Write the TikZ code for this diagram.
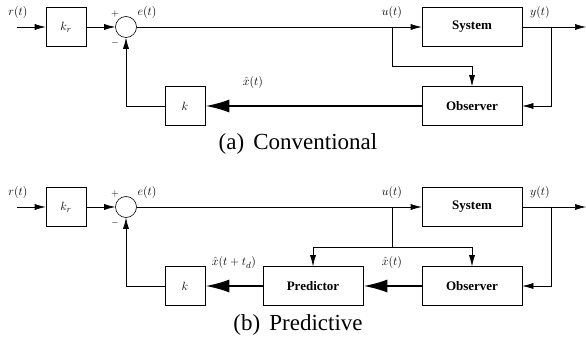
\documentclass[tikz,border=0pt]{standalone}
\usepackage[no-math]{fontspec}
\setmainfont{Liberation Serif}
\usetikzlibrary{positioning,arrows.meta}

\begin{document}
\begin{tikzpicture}
        [
        x=1pt, y=-1pt,
        every node/.style={font=\fontsize{13}{15}\selectfont},
        block/.style={draw, line width=0.6pt, minimum width=100pt, minimum height=39pt,
          font=\fontsize{13}{15}\selectfont\bfseries},
        gain/.style={draw, line width=0.6pt, minimum width=40pt, minimum height=39pt},
        sumnode/.style={circle, draw, line width=0.6pt, minimum size=21pt, inner sep=0pt},
        sign/.style={font=\fontsize{10}{12}\selectfont, inner sep=0pt},
        caption/.style={font=\fontsize{23}{26}\selectfont},
        wire/.style={line width=0.6pt},
        sig/.style={wire, -{Latex[length=11pt,width=6pt]}},
        est/.style={line width=2.2pt, -{Latex[length=24pt,width=13pt]}}
        ]
        \useasboundingbox (0,0) rectangle (586,344);

        % (a) Conventional: blocks
        \node[gain] (kr1) at (66,27) {$k_r$};
        \node[sumnode] (sum1) at (126,27) {};
        \node[block] (sys1) at (472,27) {System};
        \node[block] (obs1) at (472,106) {Observer};
        \node[gain] (k1) at (185,106) {$k$};
        \coordinate (r1) at (17,27);
        \coordinate (y1) at (586,27);
        \coordinate (ub1) at (392,27);
        \coordinate (yb1) at (551,27);
        \coordinate (uo1) at (472,66);
        % (a) signals
        \draw[sig] (r1) -- (kr1);
        \draw[sig] (kr1) -- (sum1);
        \draw[sig] (sum1) -- (sys1);
        \draw[sig] (sys1) -- (y1);
        \draw[sig] (yb1) |- (obs1);
        \draw[sig] (ub1) |- (uo1) -- (obs1);
        \draw[est] (obs1) -- (k1);
        \draw[sig] (k1) -| (sum1);
        % (a) labels
        \node (rlab1) at (18,13) {$r(t)$};
        \node[sign] (plus1) at (115,14) {$+$};
        \node[sign] (minus1) at (115,43) {$-$};
        \node (elab1) at (147,13) {$e(t)$};
        \node (ulab1) at (392,13) {$u(t)$};
        \node (ylab1) at (540,13) {$y(t)$};
        \node (xlab1) at (253,83) {$\hat{x}(t)$};
        \node[caption] (capa) at (298,144) {(a)\hspace{0.4em}Conventional};

        % (b) Predictive: blocks
        \node[gain] (kr2) at (66,207) {$k_r$};
        \node[sumnode] (sum2) at (126,207) {};
        \node[block] (sys2) at (472,207) {System};
        \node[block] (obs2) at (472,286) {Observer};
        \node[block] (pred2) at (313,286) {Predictor};
        \node[gain] (k2) at (185,286) {$k$};
        \coordinate (r2) at (17,207);
        \coordinate (y2) at (586,207);
        \coordinate (ub2) at (392,207);
        \coordinate (yb2) at (551,207);
        \coordinate (uj2) at (392,247);
        % (b) signals
        \draw[sig] (r2) -- (kr2);
        \draw[sig] (kr2) -- (sum2);
        \draw[sig] (sum2) -- (sys2);
        \draw[sig] (sys2) -- (y2);
        \draw[sig] (yb2) |- (obs2);
        \draw[wire] (ub2) -- (uj2);
        \draw[sig] (uj2) -| (pred2);
        \draw[sig] (uj2) -| (obs2);
        \draw[est] (obs2) -- (pred2);
        \draw[est] (pred2) -- (k2);
        \draw[sig] (k2) -| (sum2);
        % (b) labels
        \node (rlab2) at (18,193) {$r(t)$};
        \node[sign] (plus2) at (115,194) {$+$};
        \node[sign] (minus2) at (115,223) {$-$};
        \node (elab2) at (147,193) {$e(t)$};
        \node (ulab2) at (392,193) {$u(t)$};
        \node (ylab2) at (540,193) {$y(t)$};
        \node (xlab2) at (392,263) {$\hat{x}(t)$};
        \node (xplab2) at (234,263) {$\hat{x}(t+t_d)$};
        \node[caption] (capb) at (298,325) {(b)\hspace{0.4em}Predictive};
    \end{tikzpicture}
\end{document}
